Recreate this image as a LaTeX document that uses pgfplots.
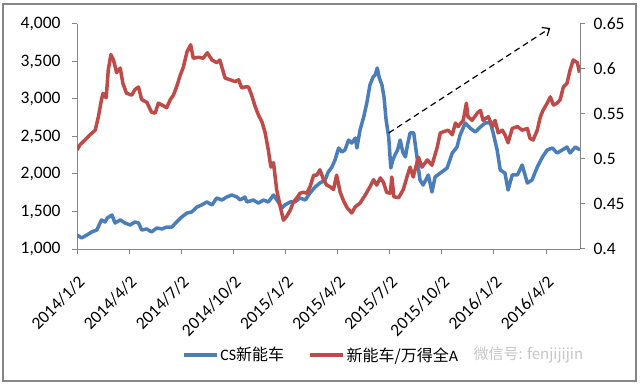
\documentclass[border=0pt]{standalone}
\usepackage{fontspec}
\setmainfont{Carlito}
\newfontfamily\cjk{Noto Sans CJK SC}
\usepackage{pgfplots}
\pgfplotsset{compat=1.18}
\usepackage{pgfplotstable}
\usetikzlibrary{arrows.meta}
\definecolor{cblue}{HTML}{4A7EBB}
\definecolor{cred}{HTML}{BE4B48}
\definecolor{axgray}{HTML}{868686}

% x = quarters since 2014/1/2
\pgfplotstableread{
x v
0.00 1187
0.09 1147
0.19 1187
0.28 1227
0.38 1253
0.47 1387
0.54 1360
0.58 1413
0.67 1453
0.73 1347
0.83 1387
0.92 1347
1.02 1320
1.11 1360
1.18 1347
1.24 1253
1.34 1267
1.43 1227
1.53 1280
1.63 1267
1.72 1293
1.82 1293
1.91 1360
2.01 1427
2.11 1480
2.20 1493
2.30 1560
2.39 1587
2.49 1627
2.59 1587
2.68 1680
2.78 1653
2.87 1693
2.97 1720
3.07 1693
3.13 1653
3.22 1693
3.26 1627
3.38 1653
3.48 1613
3.58 1653
3.67 1627
3.77 1720
3.86 1627
3.93 1547
3.99 1587
4.09 1627
4.18 1627
4.28 1680
4.38 1653
4.47 1747
4.57 1827
4.66 1880
4.76 1920
4.82 2027
4.89 2093
4.95 2187
5.02 2347
5.08 2293
5.14 2320
5.21 2453
5.27 2413
5.34 2480
5.37 2347
5.43 2587
5.50 2760
5.56 2947
5.62 3187
5.68 3293
5.72 3320
5.76 3413
5.80 3280
5.85 3187
5.89 3027
5.93 2720
5.98 2493
6.02 2080
6.06 2187
6.10 2253
6.15 2320
6.20 2453
6.25 2293
6.30 2227
6.34 2387
6.39 2547
6.46 2547
6.53 2187
6.58 1920
6.64 1853
6.74 1987
6.81 1760
6.87 1960
6.97 2013
7.10 2080
7.20 2280
7.29 2360
7.35 2520
7.45 2680
7.54 2613
7.64 2560
7.74 2627
7.83 2680
7.93 2680
7.98 2560
8.06 2320
8.12 2053
8.21 2013
8.27 1787
8.35 1987
8.45 1987
8.54 2120
8.64 1880
8.73 1920
8.83 2093
8.93 2227
9.02 2320
9.12 2347
9.21 2280
9.31 2320
9.40 2360
9.46 2280
9.56 2360
9.65 2320
}\bluedata

\pgfplotstableread{
x r
0.00 0.510
0.06 0.516
0.15 0.521
0.25 0.527
0.35 0.532
0.41 0.547
0.47 0.566
0.50 0.573
0.56 0.568
0.60 0.599
0.65 0.616
0.70 0.610
0.76 0.596
0.83 0.601
0.88 0.584
0.95 0.573
1.05 0.571
1.11 0.577
1.18 0.580
1.24 0.566
1.34 0.563
1.43 0.552
1.50 0.551
1.56 0.562
1.63 0.560
1.72 0.557
1.79 0.566
1.85 0.571
1.91 0.580
1.98 0.593
2.04 0.602
2.11 0.619
2.18 0.627
2.23 0.612
2.33 0.613
2.42 0.612
2.50 0.618
2.59 0.610
2.68 0.607
2.74 0.610
2.84 0.590
2.94 0.588
3.03 0.586
3.10 0.588
3.16 0.579
3.22 0.580
3.29 0.580
3.35 0.571
3.42 0.558
3.48 0.549
3.55 0.541
3.61 0.529
3.67 0.510
3.72 0.491
3.77 0.496
3.83 0.466
3.90 0.447
3.96 0.432
4.02 0.436
4.09 0.443
4.15 0.452
4.22 0.457
4.28 0.462
4.34 0.463
4.41 0.462
4.47 0.469
4.54 0.482
4.60 0.482
4.66 0.488
4.73 0.477
4.79 0.471
4.86 0.469
4.92 0.466
4.98 0.482
5.05 0.463
5.11 0.454
5.18 0.446
5.27 0.440
5.34 0.447
5.43 0.451
5.53 0.460
5.62 0.469
5.69 0.477
5.75 0.471
5.82 0.479
5.88 0.474
5.94 0.463
6.01 0.462
6.04 0.480
6.08 0.458
6.17 0.457
6.26 0.466
6.33 0.480
6.39 0.491
6.45 0.480
6.55 0.502
6.62 0.491
6.72 0.499
6.81 0.493
6.91 0.513
6.97 0.529
7.02 0.530
7.12 0.532
7.20 0.527
7.26 0.540
7.31 0.536
7.41 0.543
7.47 0.562
7.50 0.547
7.58 0.543
7.68 0.551
7.74 0.554
7.79 0.543
7.89 0.547
7.97 0.536
8.02 0.543
8.08 0.529
8.16 0.532
8.21 0.527
8.27 0.518
8.35 0.534
8.45 0.536
8.54 0.532
8.64 0.534
8.69 0.523
8.75 0.521
8.83 0.532
8.89 0.547
8.94 0.554
9.02 0.562
9.08 0.569
9.14 0.560
9.21 0.562
9.27 0.566
9.33 0.580
9.40 0.584
9.46 0.599
9.52 0.610
9.60 0.607
9.64 0.596
}\reddata

\pgfplotsset{
  every axis/.append style={
    at={(77bp,137bp)}, anchor=south west,
    width=503bp, height=225bp, scale only axis,
    xmin=0, xmax=9.65,
    axis line style={axgray, line width=1bp},
    tick style={axgray, line width=1bp},
    tick align=outside, major tick length=5bp,
    tick label style={font=\fontsize{17.5bp}{19bp}\selectfont, text=black},
    yticklabel style={/pgf/number format/assume math mode=true},
  },
}

\begin{document}
\begin{tikzpicture}
\useasboundingbox (0,0) rectangle (640bp,386bp);
\fill[white] (0,0) rectangle (640bp,386bp);
\draw[axgray, line width=1.3bp] (3bp,5bp) rectangle (636bp,382bp);

\begin{axis}[
  ymin=1000, ymax=4000,
  axis x line*=bottom, axis y line*=left,
  xtick={0,1,2,3,4,5,6,7,8,9},
  xticklabels={2014/1/2,2014/4/2,2014/7/2,2014/10/2,2015/1/2,2015/4/2,2015/7/2,2015/10/2,2016/1/2,2016/4/2},
  xticklabel style={yshift=-16bp, xshift=0bp, rotate=45, anchor=north east},
  ytick={1000,1500,2000,2500,3000,3500,4000},
  yticklabel style={xshift=-8bp, /pgf/number format/.cd, 1000 sep={,}},
  scaled y ticks=false,
]
\addplot[cblue, line width=3.5bp, line join=round] table[x=x, y=v] {\bluedata};
\draw[black, line width=1.2bp, dash pattern=on 6bp off 4bp, -{Straight Barb[length=6bp, width=10bp]}]
  (axis cs:5.98,2547) -- (axis cs:9.08,3947);
\end{axis}

\begin{axis}[
  ymin=0.4, ymax=0.65,
  axis y line*=right, axis x line=none,
  ytick={0.4,0.45,0.5,0.55,0.6,0.65},
  yticklabel style={xshift=5bp, /pgf/number format/.cd, fixed, precision=2},
  legend columns=2,
  legend style={at={(0.485,-0.471)}, anchor=center, draw=none, fill=none,
    font=\fontsize{16bp}{18bp}\selectfont,
    /tikz/every even column/.append style={column sep=22bp}},
  legend image code/.code={\draw[#1] (0bp,0bp) -- (33bp,0bp);},
]
\addlegendimage{cblue, line width=3.5bp}
\addlegendentry{CS{\cjk 新能车}}
\addplot[cred, line width=3.5bp, line join=round] table[x=x, y=r] {\reddata};
\addlegendentry{{\cjk 新能车/万得全}A}
\end{axis}

\node[anchor=west, text=gray!45, font=\cjk\fontsize{15bp}{17bp}\selectfont] at (470bp,31bp) {微信号: fenjijijin};
\end{tikzpicture}
\end{document}
